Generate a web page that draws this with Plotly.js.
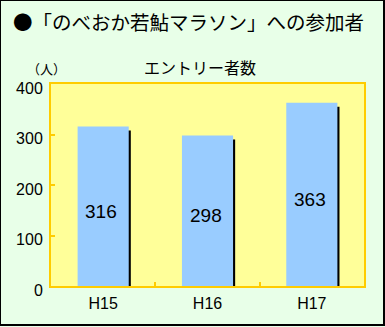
<!DOCTYPE html>
<html><head><meta charset="utf-8">
<script src="https://cdn.plot.ly/plotly-3.0.1.min.js"></script>
<style>
html,body{margin:0;padding:0;background:#fff;}
#wrap{position:relative;width:385px;height:327px;}
#plot{position:absolute;left:0;top:0;width:385px;height:327px;}
#frame{position:absolute;left:0;top:0;width:385px;height:326px;box-sizing:border-box;border-style:solid;border-color:#000;border-width:1px 2px 2px 1px;pointer-events:none;}
</style>
</head><body>
<div id="wrap"><div id="plot"></div><div id="frame"></div></div>
<script>
const categories = ["H15", "H16", "H17"];
const entrants = [316, 298, 363];
const yTicks = [0, 100, 200, 300, 400];

const titleText = "●「のべおか若鮎マラソン」への参加者";
const subtitleText = "エントリー者数";
const unitText = "（人）";

const JP = "'Noto Sans CJK JP', 'Liberation Sans', sans-serif";
const NUM = "'Liberation Sans', Arial, 'Noto Sans CJK JP', sans-serif";

const barW = 0.49;
const shadowTrace = {
  type: "bar", x: categories, y: entrants, base: entrants.map(() => -8),
  width: barW, offset: -0.245 + 0.02,
  marker: {color: "#000000", line: {width: 0}},
  hoverinfo: "skip", showlegend: false
};
const mainTrace = {
  type: "bar", x: categories, y: entrants,
  width: barW, offset: -0.245,
  marker: {color: "#99ccff", line: {width: 0}},
  showlegend: false
};

const valueLabels = categories.map((c, i) => ({
  text: String(entrants[i]), x: c, y: entrants[i] / 2, xref: "x", yref: "y",
  xanchor: "center", yanchor: "middle", showarrow: false, xshift: -2, yshift: -5,
  font: {family: NUM, size: 19, color: "#000000"}
}));

const layout = {
  width: 385, height: 327,
  margin: {l: 51, r: 21, t: 84, b: 41, pad: 0},
  paper_bgcolor: "#e8ffe8",
  plot_bgcolor: "#ffff99",
  barmode: "overlay",
  showlegend: false,
  title: {
    text: titleText, x: 13/385, xanchor: "left", xref: "container",
    y: 1 - 23/327, yref: "container", yanchor: "middle",
    font: {family: JP, size: 19.5, color: "#000000"}
  },
  xaxis: {
    type: "category", range: [-0.5, 2.5],
    showline: true, linecolor: "#ffcc00", linewidth: 2, mirror: true,
    ticks: "inside", tickson: "boundaries", ticklen: 4, tickcolor: "#ffcc00", tickwidth: 2,
    showgrid: false, zeroline: false, ticklabelstandoff: 2,
    tickfont: {family: NUM, size: 16, color: "#000000"}
  },
  yaxis: {
    range: [0, 400], tickvals: yTicks, ticktext: yTicks.map(String),
    showline: true, linecolor: "#ffcc00", linewidth: 2, mirror: true,
    ticks: "inside", ticklen: 4, tickcolor: "#ffcc00", tickwidth: 2,
    showgrid: false, zeroline: false,
    ticklabelstandoff: 3, ticklabelshift: 4,
    tickfont: {family: NUM, size: 16, color: "#000000"}
  },
  annotations: [
    {text: subtitleText, xref: "paper", yref: "paper", x: (200-51)/313, y: (286-67)/202,
     xanchor: "center", yanchor: "middle", showarrow: false,
     font: {family: JP, size: 16, color: "#000000"}},
    {text: unitText, xref: "paper", yref: "paper", x: (46-51)/313, y: (286-69)/202,
     xanchor: "center", yanchor: "middle", showarrow: false,
     font: {family: JP, size: 13, color: "#000000"}}
  ].concat(valueLabels)
};

Plotly.newPlot("plot", [shadowTrace, mainTrace], layout, {displayModeBar: false, staticPlot: true});
</script>
</body></html>
